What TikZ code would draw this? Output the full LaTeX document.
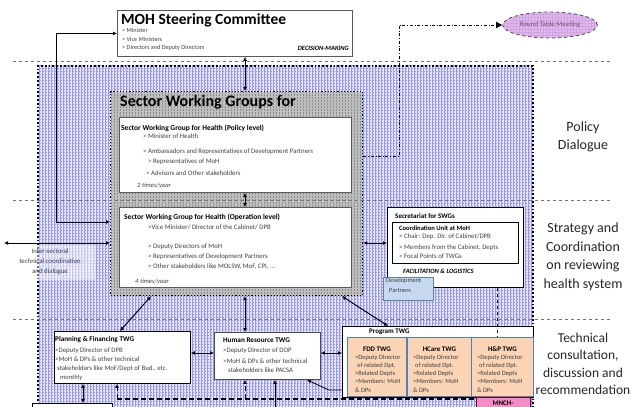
\documentclass[tikz,border=0pt]{standalone}
\usepackage{fontspec}
\setmainfont{Carlito}
\usetikzlibrary{patterns,positioning,shapes.geometric,arrows.meta}

\definecolor{itemgray}{rgb}{0.25,0.25,0.25}
\definecolor{peach}{rgb}{0.98,0.83,0.71}
\definecolor{steel}{rgb}{0.31,0.51,0.74}
\definecolor{devblue}{rgb}{0.78,0.85,0.94}
\definecolor{mnch}{rgb}{0.96,0.55,0.78}
\definecolor{lilac}{rgb}{0.88,0.72,1}

\tikzset{
  area/.style={anchor=north west, inner sep=0pt, draw=black, dotted, line width=1.8pt, pattern=grid},
  box/.style={anchor=north west, inner sep=0pt, draw=black!65, fill=white, line width=0.9pt},
  twgbox/.style={anchor=north west, inner sep=0pt, draw=steel, fill=peach, line width=0.9pt},
  item/.style={anchor=base west, inner sep=0pt, text=itemgray, font=\fontsize{6.8}{7}\selectfont},
  head/.style={anchor=base west, inner sep=0pt, font=\bfseries\fontsize{7.5}{8}\selectfont},
  note/.style={anchor=base west, inner sep=0pt, text=itemgray, font=\itshape\fontsize{6.6}{7}\selectfont},
  side/.style={align=center, inner sep=0pt, text=black!85, font=\fontsize{14}{18.5}\selectfont},
  layer/.style={dashed, black!55, line width=0.8pt},
  link/.style={line width=1pt, {Latex[length=4pt,width=4pt]}-{Latex[length=4pt,width=4pt]}},
  uplink/.style={line width=1pt, -{Latex[length=4pt,width=4pt]}},
}

\begin{document}
\begin{tikzpicture}[x=1pt, y=-1pt]
\useasboundingbox (0,0) rectangle (633,407);

% technical and policy area
\node[area, preaction={fill=blue!10}, pattern color=blue!42, minimum width=495pt, minimum height=360pt] (tech) at (37,65) {};

% steering committee
\node[box, minimum width=235pt, minimum height=46pt] (moh) at (117,10) {};
\node[anchor=base west, inner sep=0pt, font=\bfseries\fontsize{15.5}{16}\selectfont] (mohtitle) at (121,24.5) {MOH Steering Committee};
\foreach \y/\txt [count=\i] in {32.5/{> Minister}, 41/{> Vice Ministers}, 49.5/{> Directors and Deputy Directors}}
  \node[item, font=\fontsize{6.2}{6}\selectfont] (moh-\i) at (122,\y) {\txt};
\node[anchor=base east, inner sep=0pt, font=\bfseries\itshape\fontsize{6.5}{7}\selectfont] (decide) at (349,50) {DECISION-MAKING};

\node[ellipse, draw=black!70, dashed, line width=0.8pt, preaction={fill=lilac}, pattern=grid, pattern color=violet!35,
  minimum width=93pt, minimum height=26pt, text=violet!40!black!70, font=\fontsize{7}{8}\selectfont] (rtm) at (550,25) {Round Table Meeting};

% sector working groups
\node[area, line width=1.2pt, preaction={fill=black!25}, pattern color=black!45, minimum width=252pt, minimum height=204pt] (swg) at (110,91) {};
\node[anchor=base west, inner sep=0pt, font=\bfseries\fontsize{16}{16}\selectfont] (swgtitle) at (120,106) {Sector Working Groups for};

\foreach \y in {61,200,319}
  \draw[layer] (13,\y) -- (610,\y);

\node[box, minimum width=232pt, minimum height=75pt] (swgpol) at (119,117) {};
\node[head] (pol-t) at (121,130) {Sector Working Group for Health (Policy level)};
\foreach \y/\x/\txt [count=\i] in {138/143/{> Minister of Health}, 153/143/{> Ambassadors and Representatives of Development Partners},
    163/148/{> Representatives of MoH}, 175/146/{> Advisors and Other stakeholders}}
  \node[item] (pol-\i) at (\x,\y) {\txt};
\node[note] (pol-n) at (137,187) {2 times/year};

\node[box, minimum width=232pt, minimum height=80pt] (swgop) at (119,207) {};
\node[head] (op-t) at (124,219) {Sector Working Group for Health (Operation level)};
\foreach \y/\txt [count=\i] in {229/{>Vice Minister/ Director of the Cabinet/ DPB}, 248/{> Deputy Directors of MoH},
    258/{> Representatives of Development Partners}, 268/{> Other stakeholders like MOLSW, MoF, CPI, ...}}
  \node[item] (op-\i) at (148,\y) {\txt};
\node[note] (op-n) at (135,283) {4 times/year};

% secretariat
\node[box, draw=black, minimum width=136pt, minimum height=80pt] (sec) at (387,207) {};
\node[head, font=\bfseries\fontsize{7}{7}\selectfont] (sec-t) at (395,218) {Secretariat for SWGs};
\node[box, draw=black, minimum width=126pt, minimum height=41pt] (cu) at (392,222) {};
\node[head, font=\bfseries\fontsize{6.6}{7}\selectfont] (cu-t) at (399,230) {Coordination Unit at MoH};
\foreach \y/\txt [count=\i] in {238/{> Chair: Dep. Dir. of Cabinet/DPB}, 249/{> Members from the Cabinet, Depts}, 258/{> Focal Points of TWGs}}
  \node[item] (cu-\i) at (399,\y) {\txt};
\node[anchor=base west, inner sep=0pt, font=\bfseries\itshape\fontsize{6.5}{7}\selectfont] (fac) at (403,273) {FACILITATION \& LOGISTICS};

\node[anchor=north west, inner sep=0pt, draw=steel!70!gray, fill=devblue, line width=1.2pt, minimum width=50pt, minimum height=23pt] (dev) at (383,277) {};
\node[anchor=north west, inner sep=0pt, align=left, text=itemgray, font=\fontsize{6.4}{10}\selectfont] (devtxt) at (386,278) {Development\\\hspace{3pt}Partners};

% technical working groups
\node[box, draw=black, minimum width=136pt, minimum height=52pt] (pf) at (54,331) {};
\node[head, font=\bfseries\fontsize{7.2}{8}\selectfont] (pf-t) at (55,341) {Planning \& Financing TWG};
\foreach \y/\x/\txt [count=\i] in {352/55/{>Deputy Director of DPB}, 361/55/{>MoH \& DPs \& other technical}, 370/57/{stakeholders like MoF/Dept of Bud., etc.}}
  \node[item] (pf-\i) at (\x,\y) {\txt};
\node[note] (pf-n) at (60,379) {monthly};

\node[box, draw=black!70, minimum width=106pt, minimum height=47pt] (hr) at (214,332) {};
\node[head, font=\bfseries\fontsize{7.2}{8}\selectfont] (hr-t) at (223,342) {Human Resource TWG};
\foreach \y/\x/\txt [count=\i] in {352/223/{>Deputy Director of DOP}, 363/223/{>MoH \& DPs \& other technical}, 372/228/{stakeholders like PACSA}}
  \node[item] (hr-\i) at (\x,\y) {\txt};

\node[box, draw=black, minimum width=191pt, minimum height=71pt] (prog) at (342,326) {};
\node[head, font=\bfseries\fontsize{7}{8}\selectfont] (prog-t) at (369,333) {Program TWG};
\node[twgbox, minimum width=59pt, minimum height=59pt] (fdd) at (347,337) {};
\node[twgbox, minimum width=64pt, minimum height=59pt] (hcare) at (407,337) {};
\node[twgbox, minimum width=62pt, minimum height=59pt] (hp) at (471,337) {};
\foreach \b/\t/\x in {fdd/{FDD TWG}/355, hcare/{HCare TWG}/413, hp/{H\&P TWG}/477} {
  \node[head, anchor=base, font=\bfseries\fontsize{7}{8}\selectfont] (\b-t) at (\b.north |- 0,351) {\t};
  \foreach \y/\dx/\txt [count=\i] in {359/0/{>Deputy Director}, 367/2/{of related Dpt.}, 375/0/{>Related Depts}, 383/0/{>Members: MoH}, 392/0/{\& DPs}}
    \node[item, font=\fontsize{6.5}{7}\selectfont] (\b-\i) at (\x+\dx,\y) {\txt};
}
\node[anchor=north west, inner sep=0pt, draw=red!50!black, fill=mnch, line width=1pt, minimum width=54pt, minimum height=20pt] (mnch) at (476,397) {};
\node[anchor=base, inner sep=0pt, font=\bfseries\fontsize{7}{8}\selectfont] (mnch-t) at (503,405) {MNCH-};
\node[box, draw=black, minimum width=80pt, minimum height=20pt] (lower) at (32,403) {};

% layer names
\node[fill=white, fill opacity=0.45, text opacity=1, align=center, inner sep=0pt, minimum width=90pt, minimum height=35pt,
  text=itemgray, font=\fontsize{6.8}{10}\selectfont] (intertxt) at (50,262) {Inter-sectoral\\technical coordination\\and dialogue};
\node[side] (policy) at (583,137) {Policy\\Dialogue};
\node[side] (strategy) at (583,257) {Strategy and\\Coordination\\on reviewing\\health system};
\node[side, font=\fontsize{13.5}{17.5}\selectfont] (techlbl) at (583,364) {Technical\\consultation,\\discussion and\\recommendation};

% connectors
\coordinate (mid) at (245,0);
\draw[link] (mid |- moh.south) -- (mid |- swg.north);
\draw[link] (mid |- swgpol.south) -- (mid |- swgop.north);
\coordinate (steer) at (56,222);
\draw[link] (swg.west |- steer) -- (steer) |- (moh.west);
\coordinate (inter) at (4,243);
\draw[link] (inter) -- (swg.west |- inter);
\coordinate (rt) at (399,156);
\draw[dash dot, line width=1pt, -{Triangle[length=6pt,width=6pt]}] (swg.east |- rt) -- (rt) |- (rtm.west);
\coordinate (secin) at (0,243);
\draw[link] (swg.east |- secin) -- (sec.west |- secin);

\draw[link] (151,0 |- swg.south) -- (120,0 |- pf.north);
\draw[link] (mid |- swg.south) -- (mid |- hr.north);
\draw[link] (342,0 |- swg.south) -- (388,0 |- prog.north);
\coordinate (twgrow) at (0,353);
\draw[link] (pf.east |- twgrow) -- (hr.west |- twgrow);
\draw[link] (hr.east |- twgrow) -- (prog.west |- twgrow);
\coordinate (bend) at (329,390);
\draw[uplink, line width=0.8pt] (prog.west |- bend) -- (bend) -- (307,0 |- hr.south);
\draw[dashed, line width=0.9pt] (497,0 |- sec.south) -- (497,0 |- hp.north);

\coordinate (base) at (117,399);
\coordinate (baseend) at (476,399);
\draw[line width=1.3pt, dash pattern=on 5pt off 3pt] (base) -- (baseend);
\draw[uplink, dash pattern=on 5pt off 3pt] (base) -- (base |- pf.south);
\draw[uplink, dash pattern=on 5pt off 3pt] (mid |- base) -- (mid |- hr.south);
\coordinate (hrfeed) at (275,410);
\draw[uplink] (hrfeed) -- (hrfeed |- hr.south);
\draw[link] (83,0 |- pf.south) -- (83,0 |- lower.north);
\end{tikzpicture}
\end{document}
